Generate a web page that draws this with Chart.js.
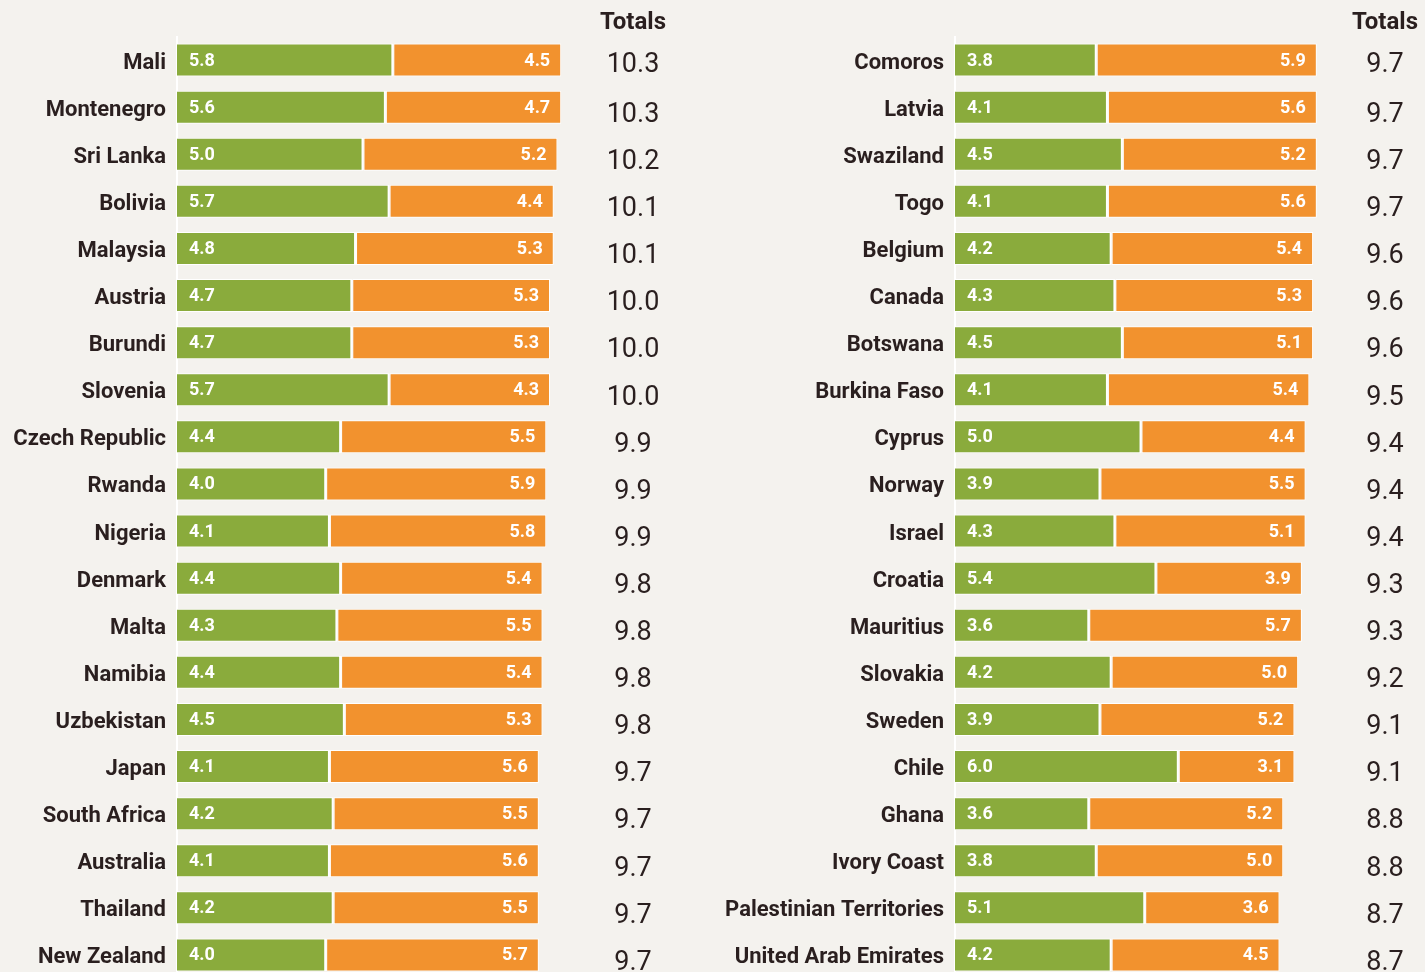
<!DOCTYPE html>
<html>
<head>
<meta charset="utf-8">
<script src="https://cdn.jsdelivr.net/npm/chart.js@4.4.1/dist/chart.umd.min.js"></script>
<style>
  html, body { margin: 0; padding: 0; background: #f4f2ee; overflow: hidden; }
  .wrap { position: absolute; top: 0; height: 1000px; }
  #leftWrap { left: 0; width: 712px; }
  #rightWrap { left: 712px; width: 713px; }
</style>
</head>
<body>
<div class="wrap" id="leftWrap"><canvas id="leftChart"></canvas></div>
<div class="wrap" id="rightWrap"><canvas id="rightChart"></canvas></div>
<script>
// Les donnees du panneau de gauche
const leftCountries = ["Mali", "Montenegro", "Sri Lanka", "Bolivia", "Malaysia", "Austria", "Burundi", "Slovenia",
  "Czech Republic", "Rwanda", "Nigeria", "Denmark", "Malta", "Namibia", "Uzbekistan", "Japan", "South Africa",
  "Australia", "Thailand", "New Zealand"]
const leftGreen = [5.8, 5.6, 5.0, 5.7, 4.8, 4.7, 4.7, 5.7, 4.4, 4.0, 4.1, 4.4, 4.3, 4.4, 4.5, 4.1, 4.2, 4.1, 4.2, 4.0]
const leftOrange = [4.5, 4.7, 5.2, 4.4, 5.3, 5.3, 5.3, 4.3, 5.5, 5.9, 5.8, 5.4, 5.5, 5.4, 5.3, 5.6, 5.5, 5.6, 5.5, 5.7]
const leftTotals = ["10.3", "10.3", "10.2", "10.1", "10.1", "10.0", "10.0", "10.0", "9.9", "9.9", "9.9", "9.8", "9.8",
  "9.8", "9.8", "9.7", "9.7", "9.7", "9.7", "9.7"]

// Les donnees du panneau de droite
const rightCountries = ["Comoros", "Latvia", "Swaziland", "Togo", "Belgium", "Canada", "Botswana", "Burkina Faso",
  "Cyprus", "Norway", "Israel", "Croatia", "Mauritius", "Slovakia", "Sweden", "Chile", "Ghana", "Ivory Coast",
  "Palestinian Territories", "United Arab Emirates"]
const rightGreen = [3.8, 4.1, 4.5, 4.1, 4.2, 4.3, 4.5, 4.1, 5.0, 3.9, 4.3, 5.4, 3.6, 4.2, 3.9, 6.0, 3.6, 3.8, 5.1, 4.2]
const rightOrange = [5.9, 5.6, 5.2, 5.6, 5.4, 5.3, 5.1, 5.4, 4.4, 5.5, 5.1, 3.9, 5.7, 5.0, 5.2, 3.1, 5.2, 5.0, 3.6, 4.5]
const rightTotals = ["9.7", "9.7", "9.7", "9.7", "9.6", "9.6", "9.6", "9.5", "9.4", "9.4", "9.4", "9.3", "9.3", "9.2",
  "9.1", "9.1", "8.8", "8.8", "8.7", "8.7"]

const totalsHeader = "Totals"

const GREEN = "#8aab3c"
const ORANGE = "#f2922e"
const TEXT = "#2a1f1f"
const FONT = "Roboto, sans-serif"

// Plugin pour les valeurs dans les barres et la colonne des totaux
const labelsPlugin = {
  id: "labelsPlugin",
  afterDatasetsDraw(chart, args, opts) {
    const ctx = chart.ctx
    ctx.save()
    ctx.fillStyle = "#fff"
    ctx.font = "bold 18px Roboto, sans-serif"
    ctx.textBaseline = "middle"
    const green = chart.getDatasetMeta(0)
    const orange = chart.getDatasetMeta(1)
    green.data.forEach((bar, i) => {
      ctx.textAlign = "left"
      ctx.fillText(chart.data.datasets[0].data[i].toFixed(1), bar.base + 12, bar.y + 1)
    })
    orange.data.forEach((bar, i) => {
      ctx.textAlign = "right"
      ctx.fillText(chart.data.datasets[1].data[i].toFixed(1), bar.x - 11, bar.y + 1)
    })
    // Les totaux
    ctx.fillStyle = TEXT
    ctx.textAlign = "center"
    ctx.font = "27px Roboto, sans-serif"
    green.data.forEach((bar, i) => {
      ctx.fillText(opts.totals[i], opts.totalsX, bar.y + (i === 0 ? 5 : 8))
    })
    ctx.font = "bold 24px Roboto, sans-serif"
    ctx.fillText(totalsHeader, opts.totalsX, 23)
    ctx.restore()
  }
}

function createChart(id, labels, green, orange, totals, axisWidth, padRight, totalsX) {
  // eslint-disable-next-line no-undef
  new Chart(document.getElementById(id), {
    type: "bar",
    data: {
      labels: labels,
      datasets: [{
        data: green,
        backgroundColor: GREEN,
        borderColor: "#ffffff",
        borderWidth: { top: 1, bottom: 1, left: 0, right: 2 },
        borderSkipped: false,
        barPercentage: 0.7,
        categoryPercentage: 1
      }, {
        data: orange,
        backgroundColor: ORANGE,
        borderColor: "#ffffff",
        borderWidth: 1,
        borderSkipped: false,
        barPercentage: 0.7,
        categoryPercentage: 1
      }]
    },
    options: {
      indexAxis: "y",
      responsive: true,
      maintainAspectRatio: false,
      animation: false,
      layout: { padding: { top: 36.5, bottom: 21.5, left: 0, right: padRight } },
      scales: {
        x: { stacked: true, min: 0, max: 12, display: false },
        y: {
          stacked: true,
          grid: { display: false },
          border: { display: true, color: "#ffffff", width: 2 },
          ticks: { color: TEXT, padding: 3, labelOffset: 3, font: { family: FONT, size: 22, weight: "bold" } },
          afterFit(scale) { scale.width = axisWidth }
        }
      },
      plugins: {
        legend: { display: false },
        tooltip: { enabled: false },
        labelsPlugin: { totals: totals, totalsX: totalsX }
      }
    },
    plugins: [labelsPlugin]
  })
}

createChart("leftChart", leftCountries, leftGreen, leftOrange, leftTotals, 177, 712 - 177 - 447.6, 633)
createChart("rightChart", rightCountries, rightGreen, rightOrange, rightTotals, 243, 713 - 243 - 447.6, 673)
</script>
</body>
</html>
